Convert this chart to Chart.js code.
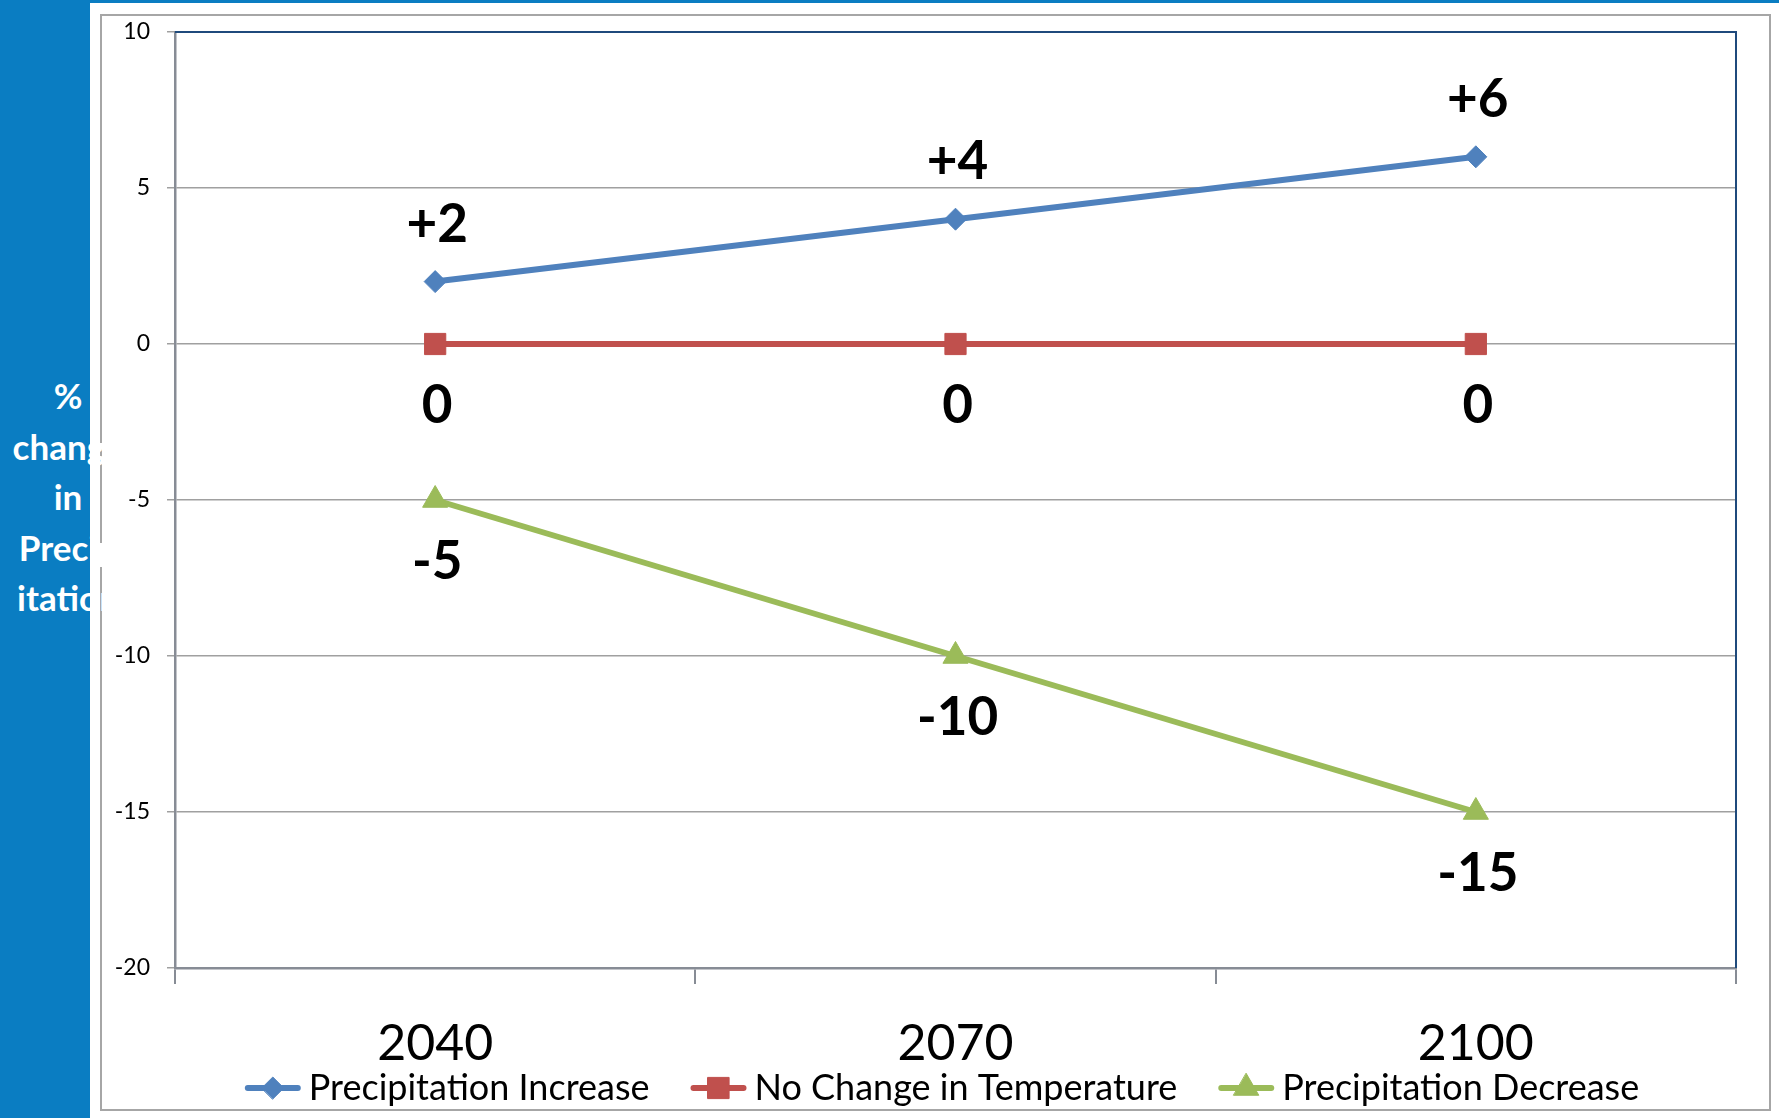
<!DOCTYPE html>
<html>
<head>
<meta charset="utf-8">
<script src="https://cdn.jsdelivr.net/npm/chart.js@4.4.1/dist/chart.umd.min.js"></script>
<style>
  html, body { margin: 0; padding: 0; background: #fff; width: 1779px; height: 1118px; overflow: hidden; font-family: Lato, sans-serif; }
  #side  { position: absolute; left: 0; top: 0; width: 90px; height: 1118px; background: #0a7dc2; }
  #strip { position: absolute; left: 0; top: 0; width: 1779px; height: 3px; background: #0a7dc2; }
  #frame { position: absolute; left: 100px; top: 14px; width: 1671px; height: 1097px; box-sizing: border-box; border: 2px solid #a6a6a6; }
  #ytitle { position: absolute; left: 0; top: 0; width: 140px; height: 1118px; overflow: hidden; }
  #ytitle div { position: absolute; left: 0; top: 370px; width: 136px; text-align: center; color: #fff; font: bold 35px/50.5px Lato, sans-serif; }
  canvas { position: absolute; left: 0; top: 0; }
</style>
</head>
<body>
<div id="side"></div>
<div id="strip"></div>
<div id="frame"></div>
<div id="ytitle"><div>%<br>change<br>in<br>Precip<br>itation</div></div>
<canvas id="chart" width="1779" height="1118"></canvas>
<script>
// Projection years on the category axis
const years = ['2040', '2070', '2100'];

// Percent change in precipitation for each scenario
const precipIncrease = [2, 4, 6];
const noChange = [0, 0, 0];
const precipDecrease = [-5, -10, -15];

const seriesNames = ['Precipitation Increase', 'No Change in Temperature', 'Precipitation Decrease'];

// Value axis
const yMin = -20;
const yMax = 10;
const yStep = 5;
const yTickLabels = ['-20', '-15', '-10', '-5', '0', '5', '10'];

const AXIS_GRAY = '#878c95';
const FRAME_NAVY = '#1f4a7c';

// Signed value labels: above the rising series, below the others
const valueLabels = {
  id: 'valueLabels',
  afterDatasetsDraw(chart) {
    const ctx = chart.ctx;
    ctx.save();
    ctx.font = 'bold 53px Lato, sans-serif';
    ctx.fillStyle = '#000';
    ctx.textAlign = 'center';
    ctx.textBaseline = 'middle';
    chart.data.datasets.forEach((ds, i) => {
      const meta = chart.getDatasetMeta(i);
      meta.data.forEach((pt, j) => {
        const v = ds.data[j];
        const txt = v > 0 ? '+' + v : String(v);
        const dy = ds.labelAbove ? -57 : 62;
        ctx.fillText(txt, pt.x + 2, pt.y + dy);
      });
    });
    ctx.restore();
  }
};

// Navy border on the top and right of the plot area
const plotFrame = {
  id: 'plotFrame',
  beforeDatasetsDraw(chart) {
    const { ctx, chartArea: a } = chart;
    ctx.save();
    ctx.strokeStyle = FRAME_NAVY;
    ctx.lineWidth = 2;
    ctx.beginPath();
    ctx.moveTo(a.left, a.top);
    ctx.lineTo(a.right, a.top);
    ctx.lineTo(a.right, a.bottom);
    ctx.stroke();
    ctx.restore();
  }
};

// Single-row legend with line + marker samples
const legendRow = {
  id: 'legendRow',
  afterDraw(chart) {
    const ctx = chart.ctx;
    ctx.save();
    ctx.font = '36px Lato, sans-serif';
    ctx.textBaseline = 'middle';
    ctx.textAlign = 'left';
    const lineLen = 56, gapText = 8, gapItem = 41;
    const items = chart.data.datasets.map(ds => ({ ds, w: ctx.measureText(ds.label).width }));
    const total = items.reduce((s, it) => s + lineLen + gapText + it.w, 0) + gapItem * (items.length - 1);
    let x = 942 - total / 2;
    const y = 1088;
    items.forEach(it => {
      const ds = it.ds;
      ctx.strokeStyle = ds.borderColor;
      ctx.lineWidth = ds.borderWidth;
      ctx.lineCap = 'round';
      ctx.beginPath();
      ctx.moveTo(x + 3, y);
      ctx.lineTo(x + lineLen - 3, y);
      ctx.stroke();
      ctx.fillStyle = ds.pointBackgroundColor;
      ctx.strokeStyle = ds.pointBorderColor;
      ctx.lineWidth = 1;
      Chart.helpers.drawPoint(ctx, { pointStyle: ds.pointStyle, radius: ds.pointRadius, borderWidth: 1, rotation: 0 }, x + lineLen / 2, y);
      ctx.fillStyle = '#000';
      ctx.fillText(ds.label, x + lineLen + gapText, y);
      x += lineLen + gapText + it.w + gapItem;
    });
    ctx.restore();
  }
};

function series(label, data, color, style, radius, above) {
  return {
    label, data,
    borderColor: color,
    backgroundColor: color,
    pointBackgroundColor: color,
    pointBorderColor: color,
    pointBorderWidth: 1,
    borderWidth: 6,
    pointStyle: style,
    pointRadius: radius,
    pointHoverRadius: radius,
    tension: 0,
    labelAbove: above
  };
}

new Chart(document.getElementById('chart'), {
  type: 'line',
  data: {
    labels: years,
    datasets: [
      series(seriesNames[0], precipIncrease, '#4f81bd', 'rectRot', 11, true),
      series(seriesNames[1], noChange, '#c0504d', 'rect', 15, false),
      series(seriesNames[2], precipDecrease, '#9bbb59', 'triangle', 14.5, false)
    ]
  },
  options: {
    responsive: false,
    animation: false,
    events: [],
    layout: { padding: { left: 0, top: 32, right: 43, bottom: 0 } },
    plugins: {
      legend: { display: false },
      tooltip: { enabled: false },
      title: { display: false }
    },
    scales: {
      x: {
        type: 'category',
        offset: true,
        grid: { offset: true, drawOnChartArea: false, drawTicks: true, tickLength: 16, color: AXIS_GRAY, lineWidth: 2 },
        border: { display: true, color: AXIS_GRAY, width: 2.5 },
        ticks: { color: '#000', font: { family: 'Lato, sans-serif', size: 50 }, padding: 30, maxRotation: 0 },
        afterFit(scale) { scale.height = 150; }
      },
      y: {
        min: yMin, max: yMax,
        grid: { color: '#a0a0a0', lineWidth: 1.5, tickLength: 8, drawTicks: true },
        border: { display: true, color: AXIS_GRAY, width: 2.5 },
        ticks: {
          stepSize: yStep,
          color: '#000',
          font: { family: 'Lato, sans-serif', size: 23 },
          padding: 17,
          callback: (v) => yTickLabels[Math.round((v - yMin) / yStep)]
        },
        afterFit(scale) { scale.width = 175; }
      }
    }
  },
  plugins: [plotFrame, valueLabels, legendRow]
});
</script>
</body>
</html>
